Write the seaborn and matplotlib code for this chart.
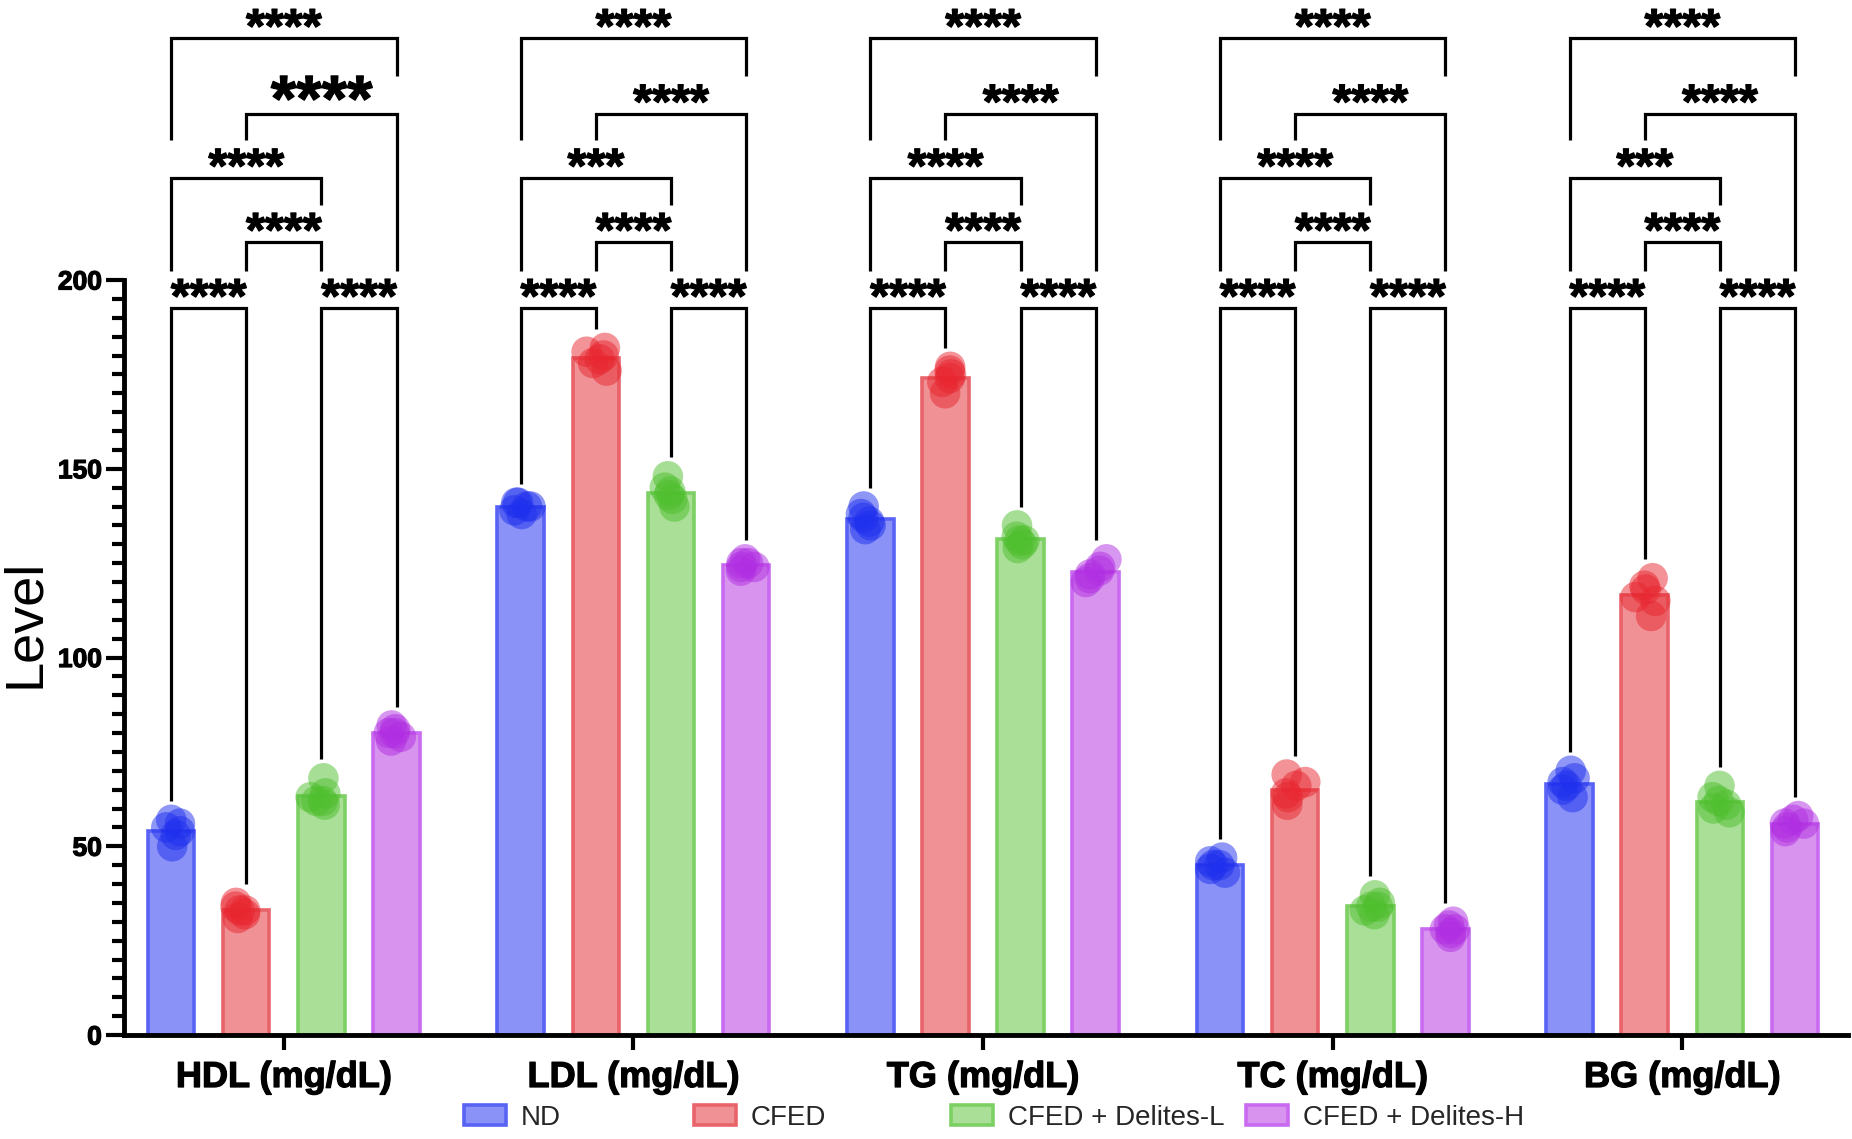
import numpy as np
import pandas as pd
import matplotlib
matplotlib.use("Agg")
import matplotlib.pyplot as plt
import matplotlib.patheffects as pe
from matplotlib.ticker import MultipleLocator
from matplotlib.patches import Patch
import seaborn as sns

# ---------------- data ----------------
measures = ["HDL (mg/dL)", "LDL (mg/dL)", "TG (mg/dL)", "TC (mg/dL)", "BG (mg/dL)"]
groups = ["ND", "CFED", "CFED + Delites-L", "CFED + Delites-H"]

hdl_nd = [50, 53, 55, 57, 54, 56]
hdl_cfed = [31, 33, 35, 32, 34, 33]
hdl_l = [61, 62, 64, 68, 63, 62]
hdl_h = [78, 80, 82, 79, 81, 80]

ldl_nd = [138, 140, 141, 139, 141, 140]
ldl_cfed = [176, 179, 182, 180, 178, 181]
ldl_l = [140, 142, 148, 145, 143, 144]
ldl_h = [123, 125, 126, 124, 125, 124]

tg_nd = [134, 136, 140, 137, 135, 138]
tg_cfed = [170, 173, 177, 175, 174, 176]
tg_l = [129, 131, 135, 130, 132, 131]
tg_h = [120, 122, 126, 121, 124, 123]

tc_nd = [43, 45, 47, 44, 46, 45]
tc_cfed = [61, 64, 69, 66, 63, 67]
tc_l = [32, 34, 37, 33, 35, 34]
tc_h = [26, 28, 30, 27, 29, 28]

bg_nd = [63, 66, 70, 67, 65, 68]
bg_cfed = [111, 115, 121, 118, 116, 119]
bg_l = [59, 61, 66, 62, 60, 63]
bg_h = [54, 56, 58, 55, 57, 56]

values = {
    "HDL (mg/dL)": [hdl_nd, hdl_cfed, hdl_l, hdl_h],
    "LDL (mg/dL)": [ldl_nd, ldl_cfed, ldl_l, ldl_h],
    "TG (mg/dL)": [tg_nd, tg_cfed, tg_l, tg_h],
    "TC (mg/dL)": [tc_nd, tc_cfed, tc_l, tc_h],
    "BG (mg/dL)": [bg_nd, bg_cfed, bg_l, bg_h],
}

# comparisons: (group i, group j, bracket level)
comparisons = [(0, 1, 0), (2, 3, 0), (1, 2, 1), (0, 2, 2), (1, 3, 3), (0, 3, 4)]
# significance labels per measure, in comparisons order
stars = {
    "HDL (mg/dL)": ["****", "****", "****", "****", "****", "****"],
    "LDL (mg/dL)": ["****", "****", "****", "***", "****", "****"],
    "TG (mg/dL)": ["****", "****", "****", "****", "****", "****"],
    "TC (mg/dL)": ["****", "****", "****", "****", "****", "****"],
    "BG (mg/dL)": ["****", "****", "****", "***", "****", "****"],
}
bracket_levels = [192.5, 210.0, 227.0, 244.0, 264.0]

rows = []
for m in measures:
    for g, vals in zip(groups, values[m]):
        for v in vals:
            rows.append({"measure": m, "group": g, "value": v})
df = pd.DataFrame(rows)

# ---------------- style ----------------
fill_colors = ["#8a92f7", "#f09195", "#a9df96", "#d893ee"]
edge_colors = ["#5862f4", "#e8636a", "#7dd064", "#c96af0"]
point_colors = ["#1f30ee", "#e82630", "#4fbf2e", "#b12fe2"]

sns.set_theme(style="ticks")
plt.rcParams["font.family"] = ["Liberation Sans", "DejaVu Sans"]

W, H = 1852, 1139
fig = plt.figure(figsize=(W / 100, H / 100), dpi=100)
ax = fig.add_axes([124 / W, 1 - 1035 / H, (1848 - 124) / W, (1035 - 280) / H])

BAR_W = 0.86
sns.barplot(data=df, x="measure", y="value", hue="group", order=measures,
            hue_order=groups, palette=fill_colors, width=BAR_W, gap=0.38,
            errorbar=None, saturation=1, linewidth=2.6, legend=False, ax=ax,
            zorder=2)
for h, cont in enumerate(ax.containers):
    for p in cont:
        p.set_edgecolor(edge_colors[h])
        p.set_linewidth(2.6)

np.random.seed(3)
n_before = len(ax.collections)
sns.stripplot(data=df, x="measure", y="value", hue="group", order=measures,
              hue_order=groups, palette=point_colors, dodge=True, jitter=0.12,
              size=22, alpha=0.5, linewidth=0, legend=False, ax=ax, zorder=3)
# stretch stripplot dodge (width .8) to match bar dodge width
for coll in ax.collections[n_before:]:
    off = coll.get_offsets()
    if len(off):
        off = np.array(off)
        c = np.round(off[:, 0])
        off[:, 0] = c + (off[:, 0] - c) * BAR_W / 0.8
        coll.set_offsets(off)

# bar centre positions from the drawn bars
centers = {}
for h, cont in enumerate(ax.containers):
    for p in cont:
        xc = p.get_x() + p.get_width() / 2
        centers[(int(round(xc)), h)] = xc

ax.set_ylim(0, 200)
ax.set_xlim(-0.457, 4.474)

# brackets
lw_br = 2.3
star_fx = [pe.withStroke(linewidth=0.9, foreground="black")]
for mi, m in enumerate(measures):
    occupied = {h: max(values[m][h]) + 5.0 for h in range(4)}
    for (i, j, lev), lab in zip(comparisons, stars[m]):
        y = bracket_levels[lev]
        xi, xj = centers[(mi, i)], centers[(mi, j)]
        ax.plot([xi, xi, xj, xj], [occupied[i], y, y, occupied[j]],
                color="black", lw=lw_br, clip_on=False, zorder=4,
                solid_joinstyle="miter", solid_capstyle="butt")
        big = (m == "HDL (mg/dL)" and (i, j) == (1, 3))
        fs = 47 if big else 35
        dy = -5 if big else -3.0
        ax.annotate(lab, xy=((xi + xj) / 2, y), xytext=(0, dy),
                    textcoords="offset points", ha="center", va="baseline",
                    fontsize=fs, fontweight="bold", annotation_clip=False,
                    color="black", path_effects=star_fx)
        for k in range(i, j + 1):
            occupied[k] = y + 10.0

# axes styling
sns.despine(ax=ax)
ax.spines["left"].set_bounds(0, 200)
for s in ("left", "bottom"):
    ax.spines[s].set_linewidth(3.5)
    ax.spines[s].set_color("black")
ax.set_yticks([0, 50, 100, 150, 200])
ax.yaxis.set_minor_locator(MultipleLocator(5))
ax.tick_params(axis="y", which="major", length=13, width=3, color="black",
               labelsize=19, pad=3)
ax.tick_params(axis="y", which="minor", length=8.5, width=3, color="black")
ax.tick_params(axis="x", which="major", length=11, width=3, color="black",
               labelsize=26, pad=7)
lab_fx = [pe.withStroke(linewidth=0.9, foreground="black")]
for t in ax.get_yticklabels() + ax.get_xticklabels():
    t.set_fontweight("bold")
    t.set_color("black")
    t.set_path_effects(lab_fx)
ax.set_xlabel("")
ax.set_ylabel("Level", fontsize=39, color="black")
ax.yaxis.set_label_coords(-0.043, 0.545)

# legend entries at the reference's positions
entry_x = [464, 694, 951, 1246]
for fc, ec, g, ex in zip(fill_colors, edge_colors, groups, entry_x):
    fig.legend([Patch(facecolor=fc, edgecolor=ec, linewidth=2.6)], [g],
               loc="center left", bbox_to_anchor=(ex / W, 1 - 1118 / H),
               frameon=False, fontsize=20, handlelength=1.5,
               handleheight=0.75, handletextpad=0.55, borderpad=0,
               borderaxespad=0)

fig.savefig("out.png", dpi=100, facecolor="white")
